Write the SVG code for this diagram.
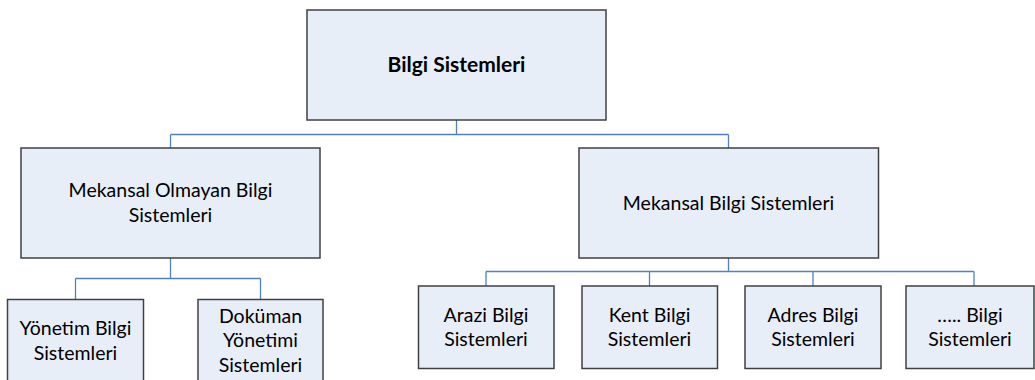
<svg xmlns="http://www.w3.org/2000/svg" width="1035" height="380" viewBox="0 0 1035 380">
<style>
.box{fill:#E8EEF8;stroke:#404040;stroke-width:1.5}
.lbl{font-family:Lato,"Open Sans",sans-serif;font-size:19.5px;fill:#000;text-anchor:middle}
.b{font-weight:bold;font-size:21px}
.conn{fill:none;stroke:#4F81C7;stroke-width:1.3}
</style>
<rect width="1035" height="380" fill="#fff"/>
<g id="connectors">
<path class="conn" d="M456.5 120V134.5M170.5 134.5H728.5M170.5 134.5V148M728.5 134.5V148"/>
<path class="conn" d="M170.5 258V278.5M75.5 278.5H260.5M75.5 278.5V299.5M260.5 278.5V299.5"/>
<path class="conn" d="M728.5 258V271.5M486 271.5H974M486 271.5V286M649.5 271.5V286M813 271.5V286M974 271.5V286"/>
</g>
<g id="n-bilgi">
<rect class="box" x="307" y="10" width="299" height="110"/>
<text class="lbl b" x="456.5" y="72">Bilgi Sistemleri</text>
</g>
<g id="n-mekansal-olmayan">
<rect class="box" x="21" y="148" width="299" height="110"/>
<text class="lbl" x="170.5" y="197">Mekansal Olmayan Bilgi</text>
<text class="lbl" x="170.5" y="221.5">Sistemleri</text>
</g>
<g id="n-mekansal">
<rect class="box" x="579" y="148" width="299.5" height="110"/>
<text class="lbl" x="728.5" y="210">Mekansal Bilgi Sistemleri</text>
</g>
<g id="n-yonetim">
<rect class="box" x="7.5" y="299.5" width="136" height="100"/>
<text class="lbl" x="75.5" y="335">Yönetim Bilgi</text>
<text class="lbl" x="75.5" y="360">Sistemleri</text>
</g>
<g id="n-dokuman">
<rect class="box" x="198" y="299.5" width="125" height="100"/>
<text class="lbl" x="260.5" y="322.5">Doküman</text>
<text class="lbl" x="260.5" y="347">Yönetimi</text>
<text class="lbl" x="260.5" y="371.5">Sistemleri</text>
</g>
<g id="n-arazi">
<rect class="box" x="418.5" y="286" width="135.5" height="82.5"/>
<text class="lbl" x="486" y="321.5">Arazi Bilgi</text>
<text class="lbl" x="486" y="346">Sistemleri</text>
</g>
<g id="n-kent">
<rect class="box" x="582" y="286" width="135.5" height="82.5"/>
<text class="lbl" x="649.5" y="321.5">Kent Bilgi</text>
<text class="lbl" x="649.5" y="346">Sistemleri</text>
</g>
<g id="n-adres">
<rect class="box" x="745" y="286" width="136" height="82.5"/>
<text class="lbl" x="813" y="321.5">Adres Bilgi</text>
<text class="lbl" x="813" y="346">Sistemleri</text>
</g>
<g id="n-diger">
<rect class="box" x="906" y="286" width="128" height="82.5"/>
<text class="lbl" x="970" y="321.5">….. Bilgi</text>
<text class="lbl" x="970" y="346">Sistemleri</text>
</g>
</svg>
